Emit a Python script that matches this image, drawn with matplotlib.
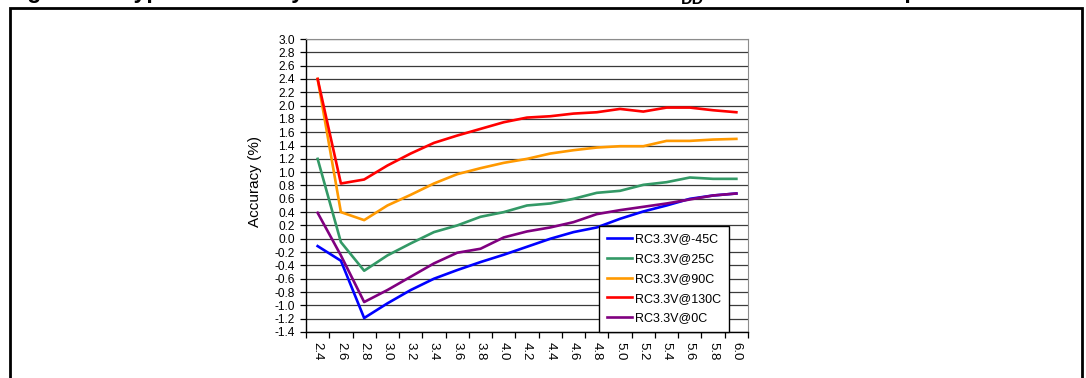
import matplotlib
matplotlib.use('Agg')
import matplotlib.pyplot as plt
from matplotlib.patches import Rectangle

plt.rcParams['font.family'] = ['Liberation Sans', 'DejaVu Sans']

vdd = ['2.4', '2.6', '2.8', '3.0', '3.2', '3.4', '3.6', '3.8', '4.0', '4.2',
       '4.4', '4.6', '4.8', '5.0', '5.2', '5.4', '5.6', '5.8', '6.0']

acc_m45 = [-0.11, -0.33, -1.19, -0.97, -0.77, -0.60, -0.47, -0.35, -0.24, -0.12,
           0.00, 0.10, 0.17, 0.30, 0.41, 0.50, 0.60, 0.65, 0.68]
acc_25 = [1.20, -0.05, -0.48, -0.25, -0.07, 0.10, 0.20, 0.33, 0.40, 0.50,
          0.53, 0.60, 0.69, 0.72, 0.81, 0.85, 0.92, 0.90, 0.90]
acc_90 = [2.40, 0.40, 0.28, 0.50, 0.66, 0.83, 0.97, 1.06, 1.14, 1.20,
          1.28, 1.33, 1.37, 1.39, 1.39, 1.47, 1.47, 1.49, 1.50]
acc_130 = [2.40, 0.83, 0.89, 1.10, 1.28, 1.44, 1.55, 1.65, 1.75, 1.82,
           1.84, 1.88, 1.90, 1.95, 1.91, 1.97, 1.97, 1.93, 1.90]
acc_0 = [0.39, -0.25, -0.95, -0.77, -0.57, -0.37, -0.21, -0.15, 0.02, 0.11,
         0.17, 0.25, 0.37, 0.43, 0.48, 0.53, 0.59, 0.65, 0.68]

series = [
    ('RC3.3V@-45C', acc_m45, '#0000ff'),
    ('RC3.3V@25C', acc_25, '#339966'),
    ('RC3.3V@90C', acc_90, '#ff9900'),
    ('RC3.3V@130C', acc_130, '#ff0000'),
    ('RC3.3V@0C', acc_0, '#800080'),
]

fig = plt.figure(figsize=(10.86, 3.78), dpi=100)
W, H = 1086, 378

# page title, only its lower edge shows at the top of the picture
r = fig.canvas.get_renderer()
yb = 1 + 2 / H
t1 = fig.text(0.006, yb, 'Figure 25. Typical accuracy of the RC 3.3 V oscillator versus V',
              fontsize=16.5, fontweight='bold', va='baseline', ha='left')
x1 = t1.get_window_extent(r).x1 / W
t2 = fig.text(x1, yb - 6 / H, 'DD', fontsize=11.5, fontweight='bold', va='baseline', ha='left')
x2 = t2.get_window_extent(r).x1 / W
fig.text(x2, yb, ' over different temperatures',
         fontsize=16.5, fontweight='bold', va='baseline', ha='left')

# frame round the figure
fig.add_artist(Rectangle((10 / W, -0.1), 1072 / W, 1.1 - 8 / H,
                         transform=fig.transFigure, fill=False, lw=2, ec='black', clip_on=False))

ax = fig.add_axes([306 / W, 1 - 332 / H, 442 / W, 293 / H])

x = list(range(len(vdd)))
for name, vals, col in series:
    ax.plot(x, vals, color=col, lw=1.9, label=name)

ax.set_xlim(-0.5, len(vdd) - 0.5)
ax.set_ylim(-1.4, 3.0)
yt = [round(-1.4 + 0.2 * i, 1) for i in range(23)]
ax.set_yticks(yt)
ax.set_yticklabels(['%.1f' % v for v in yt], fontsize=8.6)
ax.yaxis.grid(True, color='#3a3a3a', lw=0.9)
ax.set_axisbelow(True)

ax.set_xticks([i - 0.5 for i in range(len(vdd) + 1)])
ax.set_xticklabels([])
ax.set_xticks(x, minor=True)
ax.set_xticklabels(vdd, minor=True, rotation=-90, fontsize=9.5)
ax.tick_params(axis='x', which='minor', length=0, pad=7)
ax.tick_params(axis='x', which='major', length=4, width=0.9, direction='out')
ax.tick_params(axis='y', length=4, width=0.9, direction='out', pad=4)

for s in ('top', 'right'):
    ax.spines[s].set_color('#8c8c8c')
for s in ('left', 'bottom'):
    ax.spines[s].set_color('black')
ax.spines['left'].set_linewidth(1.0)
ax.spines['bottom'].set_linewidth(1.0)

ax.set_ylabel('Accuracy (%)', fontsize=11)
ax.yaxis.set_label_coords(-0.1, 0.515)

leg = ax.legend(loc='lower left', bbox_to_anchor=(0.663, 0.0), borderaxespad=0,
                fontsize=9, frameon=True, fancybox=False, edgecolor='black',
                handlelength=2.0, handletextpad=0.3, labelspacing=0.62, borderpad=0.6)
leg.get_frame().set_linewidth(1.0)
leg.get_frame().set_alpha(1)

fig.savefig('out.png', dpi=100)
